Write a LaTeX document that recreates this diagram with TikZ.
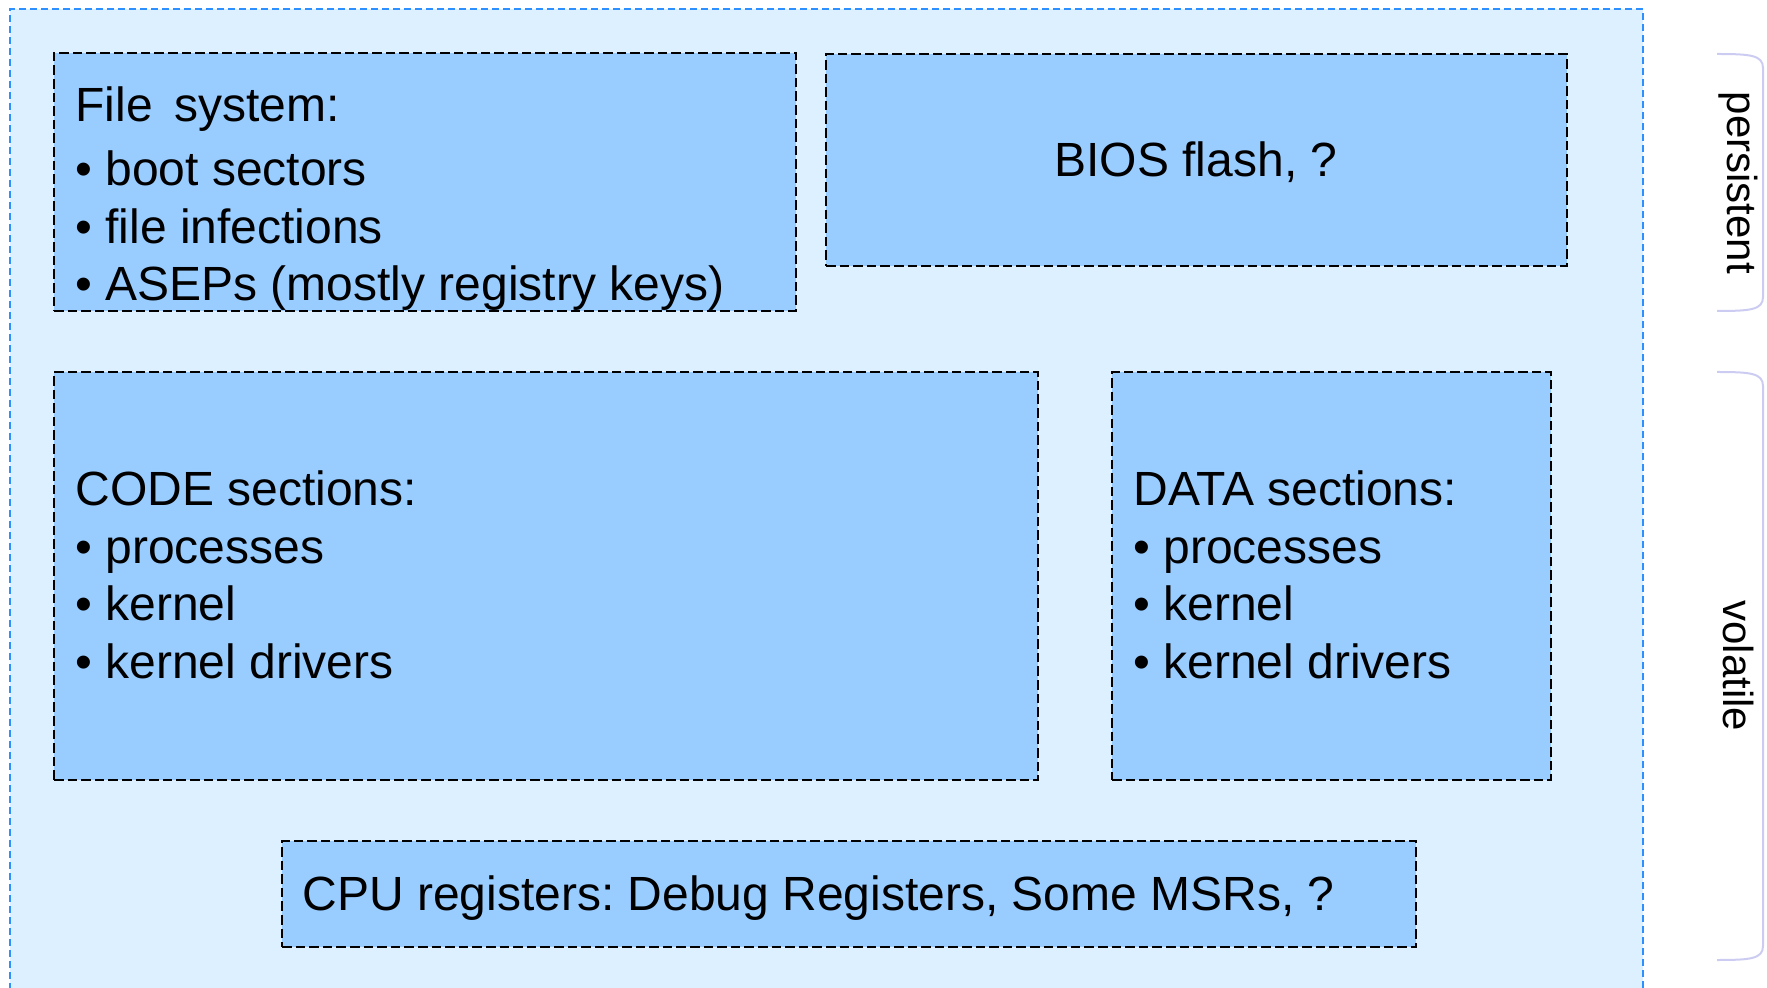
\documentclass[tikz,border=0pt]{standalone}
\usepackage{fontspec}
\setmainfont{Liberation Sans}
\definecolor{outerfill}{HTML}{DCF0FF}
\definecolor{outerline}{HTML}{2E90FF}
\definecolor{boxfill}{HTML}{99CCFF}
\definecolor{bracecol}{HTML}{CCCCF2}
\begin{document}
\begin{tikzpicture}[x=0.5pt,y=-0.5pt,
  membox/.style={draw=black, fill=boxfill, line width=1.1pt, dash pattern=on 4.8pt off 2pt,
    anchor=north west, inner sep=0pt, outer sep=0pt},
  txt/.style={anchor=base west, inner sep=0pt, font=\fontsize{24pt}{28.75pt}\selectfont},
  ctxt/.style={anchor=base, inner sep=0pt, font=\fontsize{24pt}{28.75pt}\selectfont},
  vtxt/.style={rotate=-90, inner sep=0pt, font=\fontsize{21pt}{25pt}\selectfont},
  bracket/.style={draw=bracecol, line width=1pt}]
\useasboundingbox (0,0) rectangle (1767,988);
% outer region
\fill[outerfill] (10,9) rectangle (1643,988);
\draw[outerline, line width=1pt, dash pattern=on 3.5pt off 2pt] (10,990) -- (10,9) -- (1643,9) -- (1643,990);
% boxes
\node[membox, minimum width=371pt, minimum height=129pt] (fs) at (54,53) {};
\node[membox, minimum width=370.5pt, minimum height=106pt] (bios) at (826,54) {};
\node[membox, minimum width=492pt, minimum height=204pt] (code) at (54,372) {};
\node[membox, minimum width=219.5pt, minimum height=204pt] (data) at (1112,372) {};
\node[membox, minimum width=567pt, minimum height=53pt] (cpu) at (282,841) {};
% file system text
\node[txt] (fs1) at (75,122) {File\hspace{0.45em}system:};
\node[txt] (fs2) at (75,186) {\textbullet\ boot sectors};
\node[txt] (fs3) at (75,243.5) {\textbullet\ file infections};
\node[txt] (fs4) at (75,301) {\textbullet\ ASEPs (mostly registry keys)};
% bios
\node[ctxt] (bios1) at (1196,177) {BIOS flash, ?};
% code
\node[txt] (code1) at (75,506) {CODE sections:};
\node[txt] (code2) at (75,563.5) {\textbullet\ processes};
\node[txt] (code3) at (75,621) {\textbullet\ kernel};
\node[txt] (code4) at (75,678.5) {\textbullet\ kernel drivers};
% data
\node[txt] (data1) at (1133,506) {DATA sections:};
\node[txt] (data2) at (1133,563.5) {\textbullet\ processes};
\node[txt] (data3) at (1133,621) {\textbullet\ kernel};
\node[txt] (data4) at (1133,678.5) {\textbullet\ kernel drivers};
% cpu
\node[txt] (cpu1) at (302,910) {\frenchspacing CPU registers: Debug Registers, Some MSRs, ?};
% brackets
\draw[bracket] (1717,54) .. controls (1750,54) and (1763,55) .. (1763,68) -- (1763,297) .. controls (1763,310) and (1750,311) .. (1717,311);
\draw[bracket] (1717,372) .. controls (1750,372) and (1763,373) .. (1763,386) -- (1763,946) .. controls (1763,959) and (1750,960) .. (1717,960);
\node[vtxt] (pers) at (1738,183) {persistent};
\node[vtxt] (vol) at (1738,666) {volatile};
\end{tikzpicture}
\end{document}
